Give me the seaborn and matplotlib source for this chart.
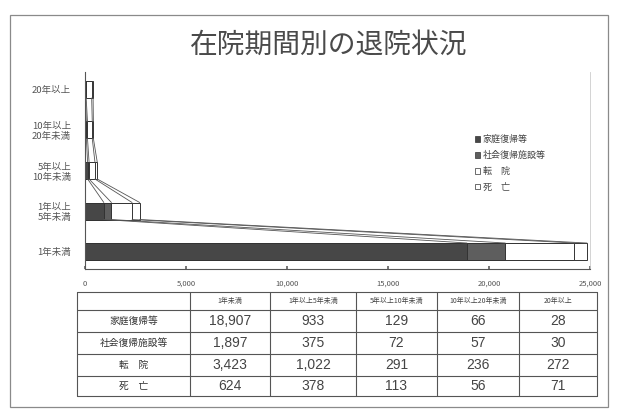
import matplotlib
matplotlib.use("Agg")
import matplotlib.pyplot as plt
from matplotlib.patches import Patch, Rectangle
import numpy as np
import pandas as pd
import seaborn as sns

# Discharges by length of stay
periods = ["1年未満", "1年以上5年未満", "5年以上10年未満", "10年以上20年未満", "20年以上"]
axis_labels = ["1年未満", "1年以上\n5年未満", "5年以上\n10年未満", "10年以上\n20年未満", "20年以上"]
series_names = ["家庭復帰等", "社会復帰施設等", "転　院", "死　亡"]
home = [18907, 933, 129, 66, 28]
social = [1897, 375, 72, 57, 30]
transfer = [3423, 1022, 291, 236, 272]
death = [624, 378, 113, 56, 71]
x_ticks = [0, 5000, 10000, 15000, 20000, 25000]

sns.set_theme(style="white")
plt.rcParams["font.family"] = ["Noto Sans CJK JP", "DejaVu Sans"]

W, H = 617, 411
fig = plt.figure(figsize=(W / 100, H / 100), dpi=100, facecolor="white")

# cumulative stacks
values = np.array([home, social, transfer, death], dtype=float)
cum = np.cumsum(values, axis=0)
df = pd.DataFrame({"period": periods,
                   "c1": cum[0], "c2": cum[1], "c3": cum[2], "c4": cum[3]})
order = periods[::-1]  # top to bottom

def px(x0, y0, x1, y1):
    return [x0 / W, 1 - y1 / H, (x1 - x0) / W, (y1 - y0) / H]

ax = fig.add_axes(px(85, 72, 590, 269))
bar_h = 0.42
edge = "#333333"
fills = ["white", "white", "#5e5e5e", "#474747"]
for col, fc in zip(["c4", "c3", "c2", "c1"], fills):
    sns.barplot(data=df, x=col, y="period", order=order, orient="h",
                color=fc, saturation=1, width=bar_h, errorbar=None,
                edgecolor=edge, linewidth=0.7, ax=ax)

# series lines joining segment edges of neighbouring bars
pos = {p: i for i, p in enumerate(order)}
for s in range(4):
    for k in range(len(periods) - 1):
        y_low = pos[periods[k]] - bar_h / 2
        y_up = pos[periods[k + 1]] + bar_h / 2
        ax.plot([cum[s][k], cum[s][k + 1]], [y_low, y_up],
                color="#555555", lw=0.6)

ax.set_xlim(0, 25000)
ax.set_xticks(x_ticks)
ax.set_xticklabels([f"{v:,}" for v in x_ticks], fontsize=5.5, color="#555555")
ax.set_yticks(range(len(order)))
ax.set_yticklabels(axis_labels[::-1], fontsize=6.8, color="#555555",
                   linespacing=1.15)
ax.set_xlabel("")
ax.set_ylabel("")
ax.spines["top"].set_visible(False)
for side in ["left", "bottom"]:
    ax.spines[side].set_color("#555555")
    ax.spines[side].set_linewidth(0.8)
ax.spines["right"].set_color("#cccccc")
ax.spines["right"].set_linewidth(0.6)
ax.tick_params(axis="x", which="both", direction="in", length=2,
               color="#666666", pad=8, bottom=True)
ax.tick_params(axis="y", length=0, pad=10)

handles = [Patch(facecolor=c, edgecolor=edge, linewidth=0.5)
           for c in ["#474747", "#5e5e5e", "white", "white"]]
ax.legend(handles, series_names, loc="upper left",
          bbox_to_anchor=(467 / W, 1 - 127 / H), bbox_transform=fig.transFigure,
          frameon=False, fontsize=6.5, handlelength=0.55, handleheight=0.55,
          handletextpad=0.3, labelspacing=0.75, labelcolor="#444444")

# overlay in pixel space for title, frame and data table
ov = fig.add_axes([0, 0, 1, 1], facecolor="none")
ov.set_xlim(0, W)
ov.set_ylim(H, 0)
ov.axis("off")
ov.add_patch(Rectangle((10, 15), 598, 392, fill=False, ec="#8a8a8a", lw=0.9))
ov.text(329, 45, "在院期間別の退院状況", ha="center", va="center",
        fontsize=20, color="#4a4a4a")

col_x = [77, 190, 270, 356, 437, 519, 597]
row_y = [292, 310, 332, 354, 376, 396]
line_c = "#555555"
for x in col_x:
    ov.plot([x, x], [row_y[0], row_y[-1]], color=line_c, lw=0.8)
for y in row_y:
    ov.plot([col_x[0], col_x[-1]], [y, y], color=line_c, lw=0.8)

for j, name in enumerate(periods):
    cx = (col_x[j + 1] + col_x[j + 2]) / 2
    ov.text(cx, (row_y[0] + row_y[1]) / 2, name, ha="center", va="center",
            fontsize=5, color="#444444")

num_font = ["Liberation Sans", "DejaVu Sans"]
for i, (name, vals) in enumerate(zip(series_names, [home, social, transfer, death])):
    cy = (row_y[i + 1] + row_y[i + 2]) / 2
    ov.text((col_x[0] + col_x[1]) / 2, cy, name, ha="center", va="center",
            fontsize=7, color="#333333")
    for j, v in enumerate(vals):
        cx = (col_x[j + 1] + col_x[j + 2]) / 2
        ov.text(cx, cy, f"{v:,}", ha="center", va="center",
                fontsize=10, color="#444444", family=num_font)

fig.savefig("out.png", dpi=100, facecolor="white")
